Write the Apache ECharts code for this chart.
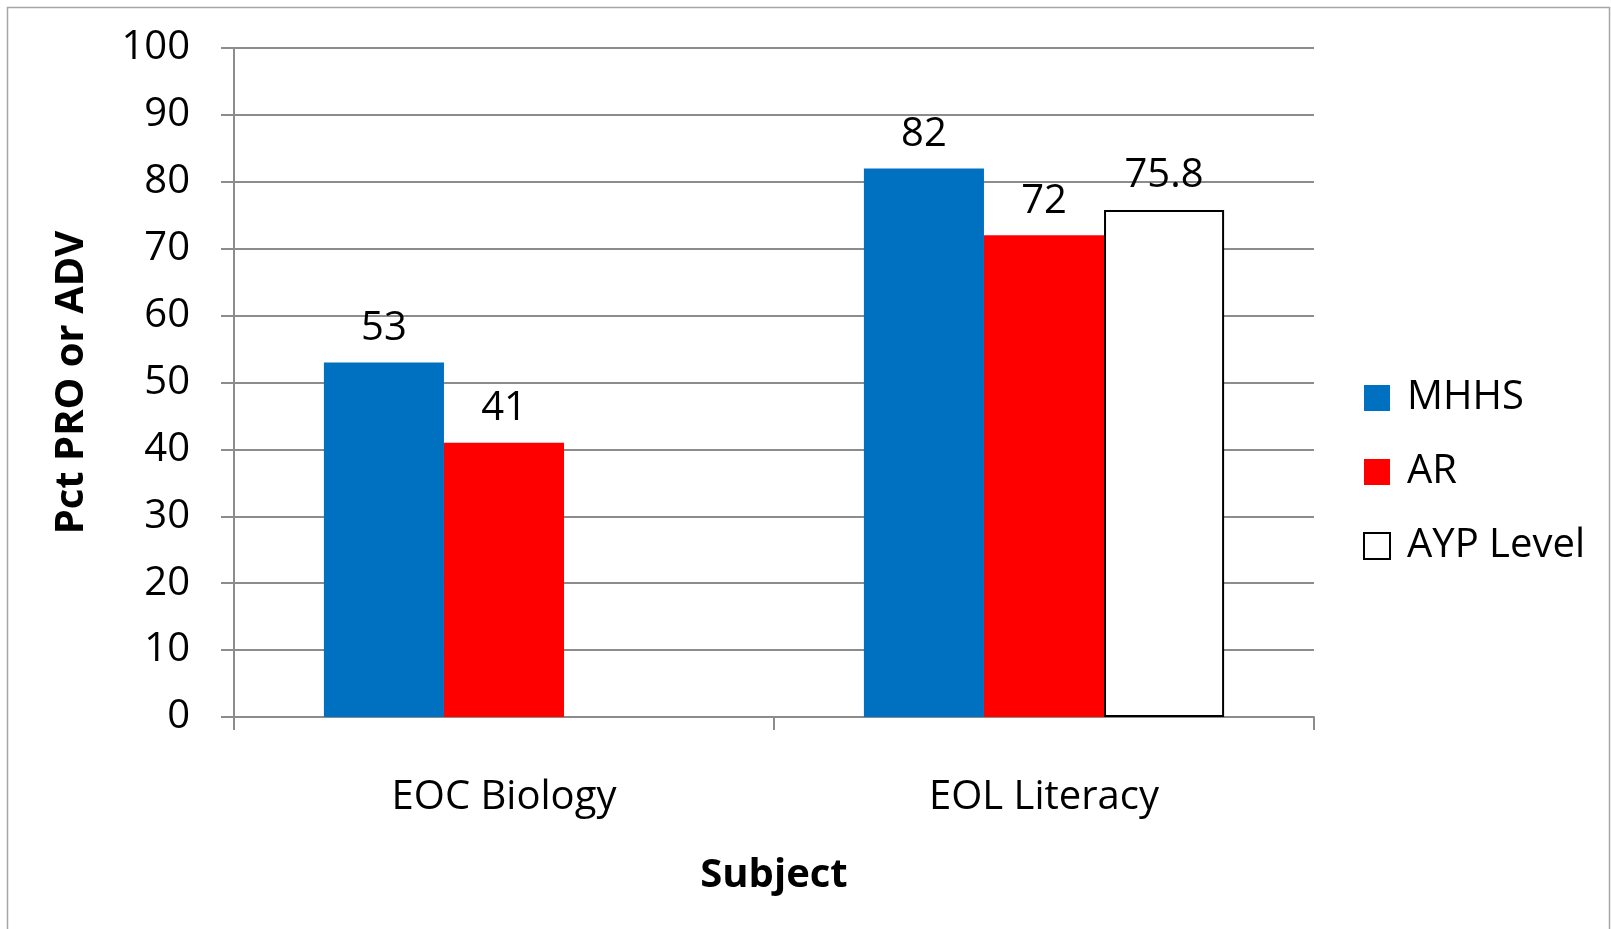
<!DOCTYPE html>
<html>
<head>
<meta charset="utf-8">
<script src="https://cdn.jsdelivr.net/npm/echarts@6/dist/echarts.min.js"></script>
<style>
  html, body { margin: 0; padding: 0; background: #fff; }
  #chart { width: 1611px; height: 929px; }
</style>
</head>
<body>
<div id="chart"></div>
<script>
const subjects = ['EOC Biology', 'EOL Literacy']
const mhhs = [53, 82]
const ar = [41, 72]
const ayp = [null, 75.8]
const yTicks = { min: 0, max: 100, step: 10 }

const font = '"Open Sans", "Liberation Sans", sans-serif'

const chart = echarts.init(document.getElementById('chart'), null, { renderer: 'canvas' })

const barLabel = {
  show: true,
  position: 'top',
  distance: 14,
  color: '#000',
  fontSize: 40,
  fontFamily: font
}

const option = {
  animation: false,
  backgroundColor: '#fff',
  graphic: [
    {
      type: 'rect',
      shape: { x: 7.5, y: 7.5, width: 1602, height: 940 },
      style: { fill: 'none', stroke: '#a6a6a6', lineWidth: 1.5 },
      silent: true
    }
  ],
  grid: {
    left: 234,
    right: 297,
    top: 48,
    bottom: 212,
    outerBoundsMode: 'none'
  },
  legend: {
    orient: 'vertical',
    left: 1363,
    top: 378,
    padding: 0,
    icon: 'rect',
    itemWidth: 26,
    itemHeight: 26,
    itemGap: 34,
    textStyle: { fontSize: 40, fontFamily: font, color: '#000', lineHeight: 26, padding: [0, 0, 0, 12] },
    data: ['MHHS', 'AR', 'AYP Level']
  },
  xAxis: {
    type: 'category',
    data: subjects,
    name: 'Subject',
    nameLocation: 'middle',
    nameGap: 139,
    nameTextStyle: { fontSize: 40, fontWeight: 'bold', fontFamily: font, color: '#000' },
    axisLine: { show: true, lineStyle: { color: '#8c8c8c', width: 2 } },
    axisTick: { show: true, alignWithLabel: false, length: 13, lineStyle: { color: '#8c8c8c', width: 2 } },
    axisLabel: { margin: 61, fontSize: 40, fontFamily: font, color: '#000' },
    splitLine: { show: false }
  },
  yAxis: {
    type: 'value',
    min: yTicks.min,
    max: yTicks.max,
    interval: yTicks.step,
    name: 'Pct PRO or ADV',
    nameLocation: 'middle',
    nameGap: 142,
    nameTextStyle: { fontSize: 40, fontWeight: 'bold', fontFamily: font, color: '#000' },
    axisLine: { show: true, lineStyle: { color: '#8c8c8c', width: 2 } },
    axisTick: { show: true, length: 13, lineStyle: { color: '#8c8c8c', width: 2 } },
    axisLabel: { margin: 44, fontSize: 40, fontFamily: font, color: '#000' },
    splitLine: { show: true, lineStyle: { color: '#8c8c8c', width: 2 } }
  },
  series: [
    {
      name: 'MHHS',
      type: 'bar',
      data: mhhs,
      barGap: '0%',
      barCategoryGap: '33.3%',
      itemStyle: { color: '#0070c0' },
      label: barLabel
    },
    {
      name: 'AR',
      type: 'bar',
      data: ar,
      itemStyle: { color: '#ff0000' },
      label: barLabel
    },
    {
      name: 'AYP Level',
      type: 'bar',
      data: ayp,
      itemStyle: { color: '#ffffff', borderColor: '#000000', borderWidth: 2 },
      label: barLabel
    }
  ]
}

chart.setOption(option)
window.addEventListener('resize', chart.resize)
</script>
</body>
</html>
